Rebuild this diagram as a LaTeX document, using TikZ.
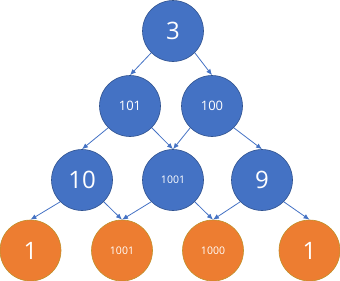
\documentclass[tikz,border=0pt]{standalone}
\usepackage{fontspec}
\setmainfont{Open Sans}
\usepackage{tikz}
\usetikzlibrary{arrows.meta}

\definecolor{nodeblue}{HTML}{4472C4}
\definecolor{edgeblue}{HTML}{2F528F}
\definecolor{nodeorange}{HTML}{ED7D31}
\definecolor{edgeorange}{HTML}{C0902A}

\begin{document}
\begin{tikzpicture}[
  x=1pt, y=-1pt,
  big/.style={font=\fontsize{24}{26}\selectfont},
  mid/.style={font=\fontsize{13}{15}\selectfont},
  small/.style={font=\fontsize{10.5}{12}\selectfont},
  inner/.style={circle, draw=edgeblue, line width=0.6pt, fill=nodeblue, text=white, minimum size=61pt, inner sep=0pt},
  leaf/.style={circle, draw=edgeorange, line width=0.6pt, fill=nodeorange, text=white, minimum size=61pt, inner sep=0pt}
]
\useasboundingbox (0,0) rectangle (340,281);

\node[inner, big]   (n3)    at (173,31)  {3};

\node[inner, mid]   (n101)  at (130,106) {101};
\node[inner, mid]   (n100)  at (212,106) {100};

\node[inner, big]   (n10)   at (82,180)  {10};
\node[inner, small] (n1001) at (173,180) {1001};
\node[inner, big]   (n9)    at (262,180) {9};

\node[leaf, big]    (la)    at (30.5,250.5)  {1};
\node[leaf, small]  (lb)    at (122,250.5)   {1001};
\node[leaf, small]  (lc)    at (213,250.5)   {1000};
\node[leaf, big]    (ld)    at (309.5,250.5) {1};

\foreach \a/\s/\b in {n3/south west/n101, n3/south east/n100,
                      n101/south west/n10, n101/south east/n1001,
                      n100/south west/n1001, n100/south east/n9,
                      n10/south west/la, n10/south east/lb,
                      n1001/south west/lb, n1001/south east/lc,
                      n9/south west/lc, n9/south east/ld}
  \draw[-{Latex[length=6pt,width=5pt]}, nodeblue, line width=0.8pt] (\a.\s) -- (\b.north);

\end{tikzpicture}
\end{document}
